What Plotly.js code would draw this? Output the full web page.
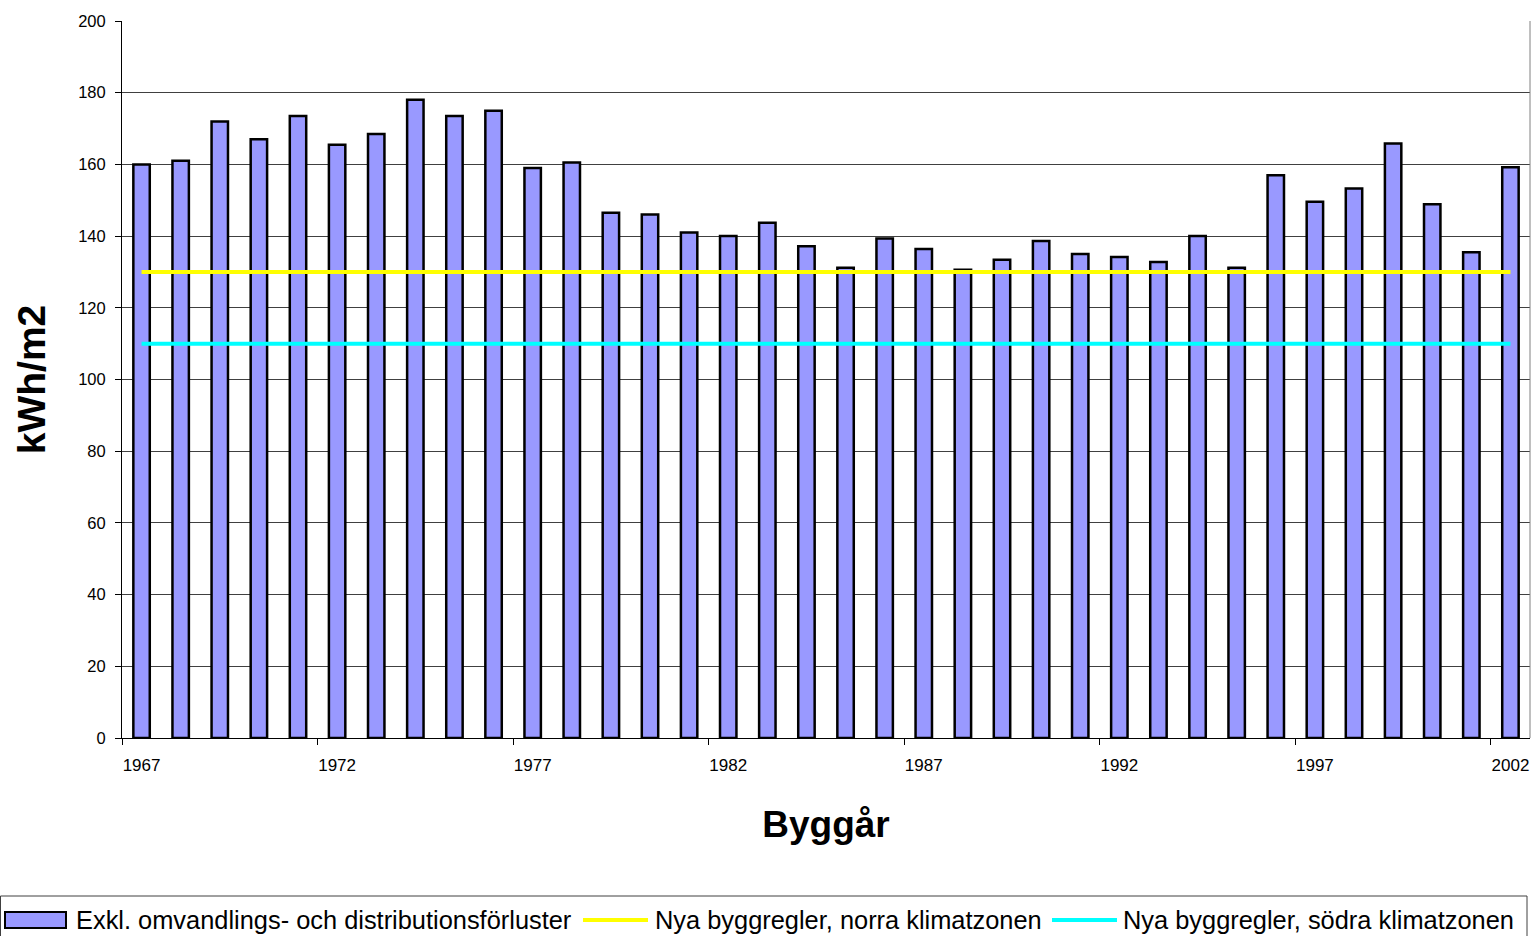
<!DOCTYPE html>
<html>
<head>
<meta charset="utf-8">
<script src="https://cdn.plot.ly/plotly-3.0.1.min.js"></script>
<style>
html,body{margin:0;padding:0;background:#fff;}
#chart{width:1538px;height:936px;}
</style>
</head>
<body>
<div id="chart"></div>
<script>
// ---- data ----
const years = ["1967","1968","1969","1970","1971","1972","1973","1974","1975","1976",
  "1977","1978","1979","1980","1981","1982","1983","1984","1985","1986",
  "1987","1988","1989","1990","1991","1992","1993","1994","1995","1996",
  "1997","1998","1999","2000","2001","2002"];
const energyExkl = [160, 161, 172, 167, 173.5, 165.5, 168.5, 178, 173.5, 175,
  159, 160.5, 146.5, 146, 141, 140, 143.7, 137.2, 131.2, 139.3,
  136.4, 130.6, 133.4, 138.6, 135, 134.2, 132.8, 140, 131.2, 157,
  149.6, 153.3, 165.8, 148.9, 135.5, 159.2];
const normNorraX = ["1967", "2002"];
const normNorraY = [130, 130];
const normSodraX = ["1967", "2002"];
const normSodraY = [110, 110];
const seriesNames = ["Exkl. omvandlings- och distributionsförluster",
  "Nya byggregler, norra klimatzonen",
  "Nya byggregler, södra klimatzonen"];
const xTitle = "Byggår";
const yTitle = "kWh/m2";

// ---- layout helpers (pixel -> paper) ----
const W = 1538, H = 936;
const mL = 122, mR = 8, mT = 21, mB = 198;
const pw = W - mL - mR, ph = H - mT - mB;
const px = X => (X - mL) / pw;
const py = Y => (H - mB - Y) / ph;

const sans = "Liberation Sans, Arial, sans-serif";

const traces = [
  {type: "bar", x: years, y: energyExkl, name: seriesNames[0],
   marker: {color: "#9999FF", line: {color: "#000000", width: 2.5}}, showlegend: false},
  {type: "scatter", mode: "lines", x: normNorraX, y: normNorraY, name: seriesNames[1],
   line: {color: "#FFFF00", width: 4}, showlegend: false},
  {type: "scatter", mode: "lines", x: normSodraX, y: normSodraY, name: seriesNames[2],
   line: {color: "#00FFFF", width: 4}, showlegend: false}
];

const legendTextY = 920;
const shapes = [
  // right border of plot area
  {type: "line", xref: "paper", yref: "paper", x0: 1, x1: 1, y0: 0, y1: 1,
   line: {color: "#808080", width: 1}},
  // legend box
  {type: "rect", xref: "paper", yref: "paper", x0: px(0.5), x1: px(1527), y0: py(896), y1: py(945),
   line: {color: "#404040", width: 1}, fillcolor: "rgba(0,0,0,0)"},
  // legend symbols
  {type: "rect", xref: "paper", yref: "paper", x0: px(5), x1: px(66), y0: py(912), y1: py(928),
   line: {color: "#000", width: 2}, fillcolor: "#9999FF"},
  {type: "line", xref: "paper", yref: "paper", x0: px(583), x1: px(648), y0: py(920), y1: py(920),
   line: {color: "#FFFF00", width: 4}},
  {type: "line", xref: "paper", yref: "paper", x0: px(1052), x1: px(1117), y0: py(920), y1: py(920),
   line: {color: "#00FFFF", width: 4}}
];

const legendFont = {family: sans, size: 25.4, color: "#000"};
const annotations = [
  {xref: "paper", yref: "paper", x: px(74), y: py(legendTextY), xanchor: "left", yanchor: "middle",
   text: seriesNames[0], showarrow: false, font: legendFont},
  {xref: "paper", yref: "paper", x: px(653), y: py(legendTextY), xanchor: "left", yanchor: "middle",
   text: seriesNames[1], showarrow: false, font: legendFont},
  {xref: "paper", yref: "paper", x: px(1121), y: py(legendTextY), xanchor: "left", yanchor: "middle",
   text: seriesNames[2], showarrow: false, font: legendFont}
];

const layout = {
  width: W, height: H,
  margin: {l: mL, r: mR, t: mT, b: mB, pad: 0},
  paper_bgcolor: "#fff", plot_bgcolor: "#fff",
  bargap: 0.58,
  showlegend: false,
  xaxis: {
    type: "category",
    tickmode: "linear", tick0: 0, dtick: 5,
    tickson: "boundaries",
    tickangle: 0,
    ticks: "outside", ticklen: 6, tickcolor: "#000", tickwidth: 1,
    ticklabelstandoff: 12,
    showgrid: false,
    showline: true, linecolor: "#000", linewidth: 1,
    tickfont: {family: sans, size: 17, color: "#000"},
    title: {text: xTitle, font: {family: sans, size: 37, color: "#000", weight: "bold"}, standoff: 36},
    fixedrange: true, zeroline: false
  },
  yaxis: {
    range: [0, 200], dtick: 20, tick0: 0,
    ticks: "outside", ticklen: 6, tickcolor: "#000", tickwidth: 1,
    showgrid: true, gridcolor: "#404040", gridwidth: 1,
    showline: true, linecolor: "#000", linewidth: 1,
    zeroline: false,
    ticklabelstandoff: 6,
    tickfont: {family: sans, size: 16.5, color: "#000"},
    title: {text: yTitle, font: {family: sans, size: 39, color: "#000", weight: "bold"}, standoff: 20},
    fixedrange: true
  },
  shapes: shapes,
  annotations: annotations
};

Plotly.newPlot("chart", traces, layout, {displayModeBar: false, staticPlot: true});
</script>
</body>
</html>
